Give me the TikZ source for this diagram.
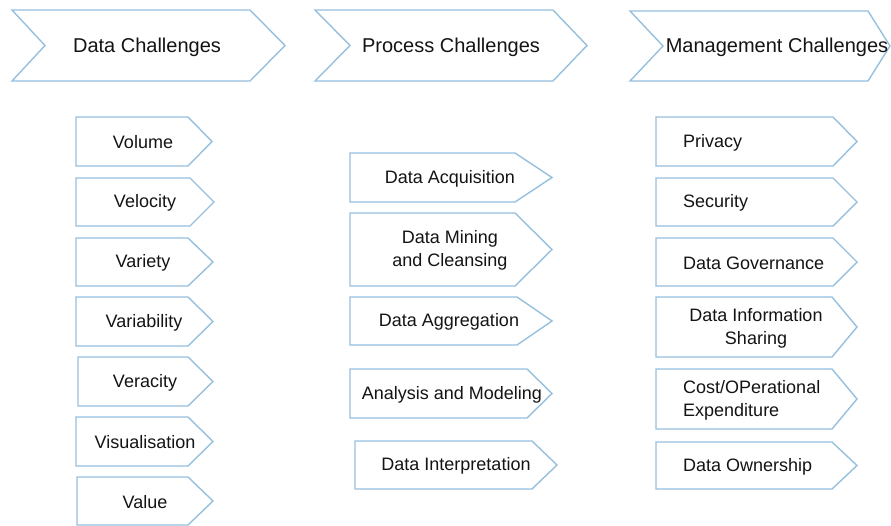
\documentclass[tikz,border=0pt]{standalone}
\usepackage{fontspec}
\setmainfont{Liberation Sans}
\definecolor{edgeblue}{RGB}{150,192,222}
\definecolor{txt}{RGB}{20,20,20}
\tikzset{
  shapeline/.style={draw=edgeblue, line width=1.4pt, line join=miter, fill=white},
  lbl/.style={text=txt, inner sep=0pt, align=center, yshift=-1pt, font=\fontsize{18}{23}\selectfont},
  title/.style={text=txt, inner sep=0pt, yshift=-1.5pt, font=\fontsize{20}{24}\selectfont},
}
% pentagon: left, top, bottom, corner, tip
\newcommand\pentshape[5]{\draw[shapeline] (#1,#2) -- (#4,#2) -- (#5,{(#2+#3)/2}) -- (#4,#3) -- (#1,#3) -- cycle;}
% chevron: left, notch, corner, tip, top, bottom
\newcommand\chevshape[6]{\draw[shapeline] (#1,#5) -- (#3,#5) -- (#4,{(#5+#6)/2}) -- (#3,#6) -- (#1,#6) -- (#2,{(#5+#6)/2}) -- cycle;}
\begin{document}
\begin{tikzpicture}[x=1pt,y=-1pt]
\useasboundingbox (0,0) rectangle (891,525);
% top chevrons
\chevshape{12}{45}{250}{285}{10}{81}
\chevshape{315}{350}{553}{587}{10}{81}
\chevshape{630}{663}{868}{890}{11}{81}
\node[title] (t1) at (147,45.5) {Data Challenges};
\node[title] (t2) at (451,45.5) {Process Challenges};
\node[title] (t3) at (777,45.5) {Management Challenges};
% data column
\pentshape{76}{117}{166}{188}{212}
\pentshape{76}{178}{226}{190}{214}
\pentshape{76}{238}{286}{188}{213}
\pentshape{76}{297}{346}{188}{213}
\pentshape{78}{357}{406}{188}{213}
\pentshape{76}{417}{466}{188}{213}
\pentshape{77}{477}{525}{188}{213}
\node[lbl] (d1) at (143,141.5) {Volume};
\node[lbl] (d2) at (145,202) {Velocity};
\node[lbl] (d3) at (143,262) {Variety};
\node[lbl] (d4) at (144,321.5) {Variability};
\node[lbl] (d5) at (145,381.5) {Veracity};
\node[lbl] (d6) at (145,441.5) {Visualisation};
\node[lbl] (d7) at (145,501) {Value};
% process column
\pentshape{350}{153}{202}{515}{552}
\pentshape{350}{213}{286}{515}{552}
\pentshape{350}{297}{345}{517}{552}
\pentshape{350}{369}{418}{527}{552}
\pentshape{355}{441}{489}{532}{557}
\node[lbl] (p1) at (450,177.5) {Data Acquisition};
\node[lbl] (p2) at (450,249.5) {Data Mining\\and Cleansing};
\node[lbl] (p3) at (449,321) {Data Aggregation};
\node[lbl] (p4) at (452,393.5) {Analysis and Modeling};
\node[lbl] (p5) at (456,465) {Data Interpretation};
% management column
\pentshape{656}{117}{166}{833}{857}
\pentshape{656}{178}{226}{833}{857}
\pentshape{656}{238}{286}{833}{857}
\pentshape{656}{297}{357}{832}{857}
\pentshape{656}{369}{429}{832}{857}
\pentshape{656}{442}{489}{832}{857}
\node[lbl,anchor=west] (m1) at (683,141.5) {Privacy};
\node[lbl,anchor=west] (m2) at (683,202) {Security};
\node[lbl,anchor=west] (m3) at (683,262) {Data Governance};
\node[lbl] (m4) at (756,327) {Data Information\\Sharing};
\node[lbl,anchor=west,align=left] (m5) at (683,399) {Cost/OPerational\\Expenditure};
\node[lbl,anchor=west] (m6) at (683,465.5) {Data Ownership};
\end{tikzpicture}
\end{document}
